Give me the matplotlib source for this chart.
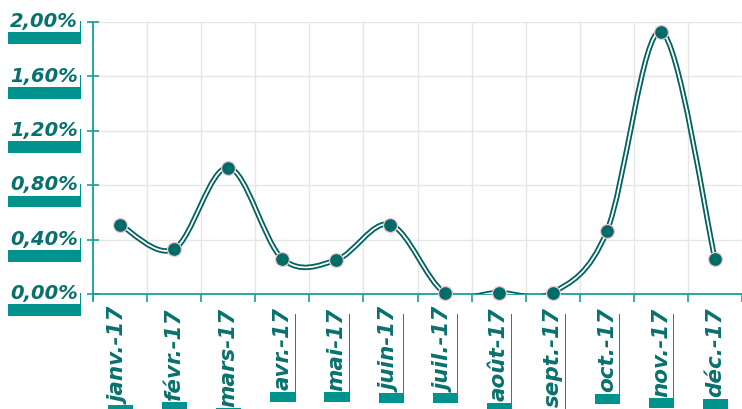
import numpy as np
import matplotlib
matplotlib.use("Agg")
import matplotlib.pyplot as plt
from matplotlib.path import Path
from matplotlib.patches import PathPatch
from matplotlib.transforms import offset_copy

# ---- data (monthly rate, %) ----
months = ["janv.-17", "févr.-17", "mars-17", "avr.-17", "mai-17", "juin-17",
          "juil.-17", "août-17", "sept.-17", "oct.-17", "nov.-17", "déc.-17"]
values = [0.51, 0.33, 0.93, 0.26, 0.25, 0.51, 0.01, 0.01, 0.01, 0.46, 1.93, 0.26]
y_ticks = [0.0, 0.4, 0.8, 1.2, 1.6, 2.0]
y_labels = ["0,00%", "0,40%", "0,80%", "1,20%", "1,60%", "2,00%"]

TXT = "#08716E"
SHADOW = "#00938E"
AXIS = "#17A09B"
LINE = "#00615D"
GRID = "#E6E6E6"

fig = plt.figure(figsize=(7.42, 4.10), dpi=100)
ax = fig.add_axes([93 / 742, 1 - 295 / 410, 649 / 742, 272 / 410])

x = np.arange(len(values)) + 0.5
y = np.array(values)

# ---- smoothed line (Catmull-Rom as bezier segments) ----
pts = np.column_stack([x, y])
verts = [pts[0]]
codes = [Path.MOVETO]
n = len(pts)
for i in range(n - 1):
    p0 = pts[i - 1] if i > 0 else pts[i]
    p3 = pts[i + 2] if i + 2 < n else pts[i + 1]
    c1 = pts[i] + (pts[i + 1] - p0) / 6
    c2 = pts[i + 1] - (p3 - pts[i]) / 6
    verts += [c1, c2, pts[i + 1]]
    codes += [Path.CURVE4] * 3
path = Path(verts, codes)
ax.add_patch(PathPatch(path, fill=False, edgecolor=LINE, lw=3.9, zorder=3,
                       capstyle="round", joinstyle="round"))
ax.add_patch(PathPatch(path, fill=False, edgecolor="white", lw=1.3, zorder=4,
                       capstyle="round", joinstyle="round"))
ax.plot(x, y, linestyle="none", marker="o", markersize=10,
        markerfacecolor="#006C67", markeredgecolor="#F3C3D2",
        markeredgewidth=0.9, zorder=5, clip_on=False)

# ---- axes styling ----
ax.set_xlim(0, 12)
ax.set_ylim(0, 2.0)
ax.set_yticks(y_ticks)
ax.set_xticks(np.arange(0, 13))
ax.set_yticklabels([])
ax.set_xticklabels([])
ax.grid(True, color=GRID, lw=1)
ax.set_axisbelow(True)
for s in ["top", "right"]:
    ax.spines[s].set_visible(False)
for s in ["left", "bottom"]:
    ax.spines[s].set_color(AXIS)
    ax.spines[s].set_linewidth(1.3)
ax.spines["left"].set_bounds(-0.04, 2.0)
ax.tick_params(axis="y", direction="inout", length=9, color=AXIS, width=1.2)
ax.tick_params(axis="x", direction="out", length=6, color=AXIS, width=1.2)

font = dict(fontweight="bold", fontstyle="italic", family="DejaVu Sans")

# ---- y labels with white box + teal shadow ----
ytr = ax.get_yaxis_transform()
for v, lab in zip(y_ticks, y_labels):
    sh = offset_copy(ytr, fig=fig, x=-10.5, y=-7.5, units="points")
    ax.text(0, v, lab, transform=sh, ha="right", va="center", fontsize=14,
            color="none", clip_on=False, zorder=6,
            bbox=dict(boxstyle="square,pad=0.12", fc=SHADOW, ec="none"), **font)
    tr = offset_copy(ytr, fig=fig, x=-11, y=1, units="points")
    ax.text(0, v, lab, transform=tr, ha="right", va="center", fontsize=14,
            color=TXT, clip_on=False, zorder=7,
            bbox=dict(boxstyle="square,pad=0.12", fc="white", ec="none"), **font)

# ---- x labels, rotated ----
xtr = ax.get_xaxis_transform()
for xi, lab in zip(x, months):
    sh = offset_copy(xtr, fig=fig, x=0.5, y=-16, units="points")
    ax.text(xi, 0, lab, transform=sh, ha="center", va="top", rotation=90,
            fontsize=15.5, color="none", clip_on=False, zorder=6,
            bbox=dict(boxstyle="square,pad=0.12", fc=SHADOW, ec="none"), **font)
    tr = offset_copy(xtr, fig=fig, x=0, y=-9, units="points")
    ax.text(xi, 0, lab, transform=tr, ha="center", va="top", rotation=90,
            fontsize=15.5, color=TXT, clip_on=False, zorder=7,
            bbox=dict(boxstyle="square,pad=0.12", fc="white", ec="none"), **font)

fig.savefig("out.png", dpi=100)
